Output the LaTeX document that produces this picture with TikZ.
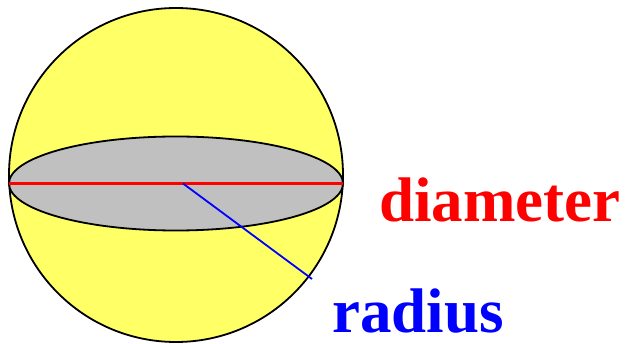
\documentclass[tikz,border=0pt]{standalone}
\usepackage{fontspec}
\setmainfont{Liberation Serif}
\usetikzlibrary{shapes.geometric}
\definecolor{sphereyellow}{RGB}{255,255,102}
\definecolor{discgray}{RGB}{192,192,192}
\definecolor{diamred}{RGB}{255,0,0}
\definecolor{radblue}{RGB}{0,0,255}
\begin{document}
\begin{tikzpicture}[x=1pt,y=-1pt,
  outline/.style={draw=black,line width=1.8pt},
  lbl/.style={font=\bfseries\fontsize{63}{63}\selectfont,anchor=base west,inner sep=0pt}]
\useasboundingbox (0,0) rectangle (629,344);
\node[outline,circle,fill=sphereyellow,minimum size=334pt,inner sep=0pt] (sphere) at (176,175) {};
\node[outline,ellipse,fill=discgray,minimum width=334pt,minimum height=94pt,inner sep=0pt] (disc) at (176,183.5) {};
\coordinate (dl) at (9,183.5);
\coordinate (dr) at (343,183.5);
\coordinate (c) at (183,183.5);
\coordinate (re) at (312,279);
\draw[draw=diamred,line width=2.2pt] (dl) -- (dr);
\draw[draw=radblue,line width=1.8pt] (c) -- (re);
\node[lbl,text=diamred] (diam) at (379,222) {diameter};
\node[lbl,text=radblue] (rad) at (332,333) {radius};
\end{tikzpicture}
\end{document}
